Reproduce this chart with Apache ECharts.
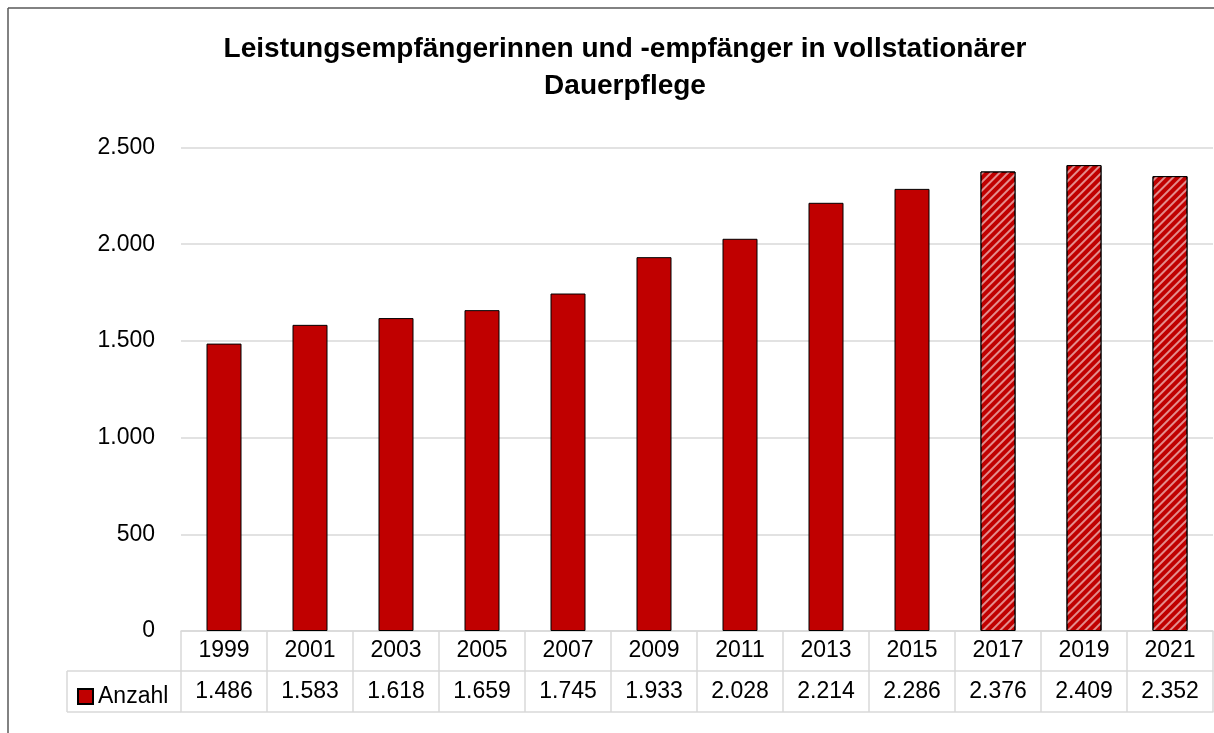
<!DOCTYPE html>
<html>
<head>
<meta charset="utf-8">
<script src="https://cdn.jsdelivr.net/npm/echarts@6/dist/echarts.min.js"></script>
<style>
  html, body { margin: 0; padding: 0; background: #fff; }
  #chart { width: 1214px; height: 733px; }
</style>
</head>
<body>
<div id="chart"></div>
<script>
const years = ['1999', '2001', '2003', '2005', '2007', '2009', '2011', '2013', '2015', '2017', '2019', '2021'];
const values = [1486, 1583, 1618, 1659, 1745, 1933, 2028, 2214, 2286, 2376, 2409, 2352];
const hatched = ['2017', '2019', '2021'];
const seriesName = 'Anzahl';
const titleText = 'Leistungsempfängerinnen und -empfänger in vollstationärer\nDauerpflege';

const font = '"Liberation Sans", Arial, sans-serif';
const gridColor = '#d9d9d9';

// Tausenderpunkt wie im Original
function fmt(v) {
    return String(v).replace(/\B(?=(\d{3})+(?!\d))/g, '.');
}

const myChart = echarts.init(document.getElementById('chart'));

const barData = values.map((v, i) => {
    if (hatched.indexOf(years[i]) < 0) return v;
    return {
        value: v,
        itemStyle: {
            decal: {
                symbol: 'rect',
                symbolSize: 1,
                color: 'rgba(255,255,255,0.55)',
                dashArrayX: [1, 0],
                dashArrayY: [2, 4],
                rotation: -Math.PI / 4
            }
        }
    };
});

const option = {
    animation: false,
    legend: {
        data: [seriesName],
        left: 72,
        top: 680,
        itemWidth: 15,
        itemHeight: 15,
        icon: 'rect',
        textStyle: { fontFamily: font, fontSize: 23, color: '#000' }
    },
    grid: { left: 181, right: 1, top: 147.5, bottom: 102 },
    xAxis: [
        {
            type: 'category',
            data: years,
            position: 'bottom',
            axisLine: { lineStyle: { color: gridColor, width: 1.5 } },
            axisTick: { show: true, length: 40, lineStyle: { color: gridColor, width: 1.5 } },
            axisLabel: { margin: 0, lineHeight: 40, fontFamily: font, fontSize: 23, color: '#000' }
        },
        {
            type: 'category',
            data: years,
            position: 'bottom',
            offset: 40,
            axisLine: { lineStyle: { color: gridColor, width: 1.5 } },
            axisTick: { show: true, length: 41, lineStyle: { color: gridColor, width: 1.5 } },
            axisLabel: {
                margin: 0,
                lineHeight: 41,
                fontFamily: font,
                fontSize: 23,
                color: '#000',
                formatter: (v, i) => fmt(values[i])
            }
        },
        {
            type: 'category',
            data: years,
            position: 'bottom',
            offset: 81,
            axisLine: { lineStyle: { color: gridColor, width: 1.5 } },
            axisTick: { show: false },
            axisLabel: { show: false }
        }
    ],
    yAxis: {
        type: 'value',
        min: 0,
        max: 2500,
        interval: 500,
        axisLine: { show: false },
        axisTick: { show: false },
        axisLabel: { margin: 26, fontFamily: font, fontSize: 23, color: '#000', formatter: fmt },
        splitLine: { lineStyle: { color: gridColor, width: 1.5 } }
    },
    series: [
        {
            name: seriesName,
            type: 'bar',
            xAxisIndex: 0,
            barWidth: 35,
            itemStyle: { color: '#c00000', borderColor: '#000', borderWidth: 1 },
            data: barData
        }
    ],
    graphic: [
        // Titel
        {
            type: 'text',
            x: 625,
            y: 31,
            style: {
                text: titleText,
                align: 'center',
                verticalAlign: 'top',
                fontFamily: font,
                fontWeight: 'bold',
                fontSize: 28,
                lineHeight: 37,
                fill: '#000'
            }
        },
        // Rahmen oben und links
        { type: 'line', shape: { x1: 8, y1: 8, x2: 1214, y2: 8 }, style: { stroke: '#595959', lineWidth: 1.5 } },
        { type: 'line', shape: { x1: 8, y1: 8, x2: 8, y2: 733 }, style: { stroke: '#595959', lineWidth: 1.5 } },
        // Legendenzelle der Datentabelle
        { type: 'line', shape: { x1: 67, y1: 671, x2: 181, y2: 671 }, style: { stroke: gridColor, lineWidth: 1.5 } },
        { type: 'line', shape: { x1: 67, y1: 712, x2: 181, y2: 712 }, style: { stroke: gridColor, lineWidth: 1.5 } },
        { type: 'line', shape: { x1: 67, y1: 671, x2: 67, y2: 712 }, style: { stroke: gridColor, lineWidth: 1.5 } }
    ]
};
myChart.setOption(option);
</script>
</body>
</html>
